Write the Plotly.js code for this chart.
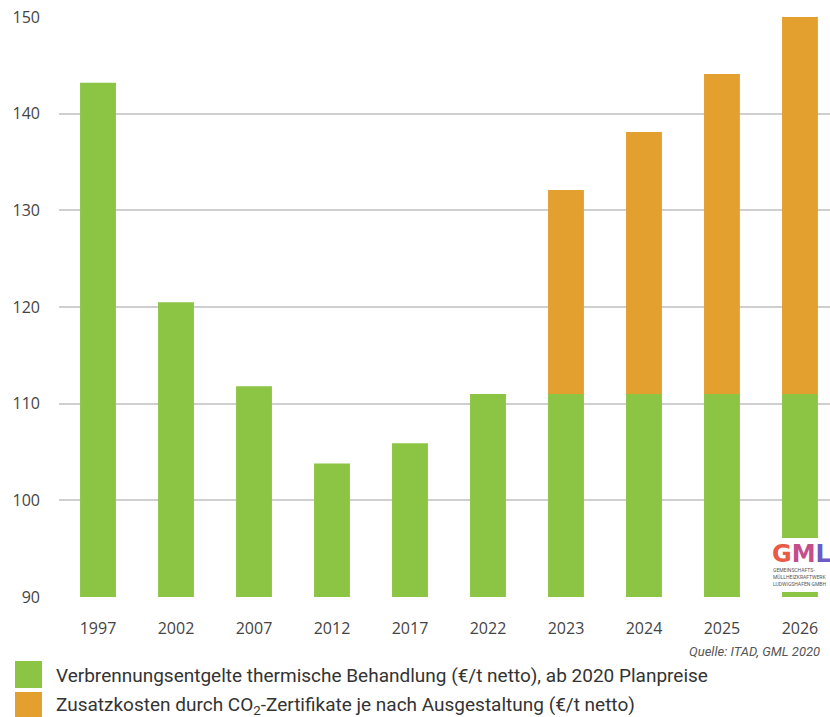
<!DOCTYPE html>
<html><head><meta charset="utf-8">
<script src="https://cdn.plot.ly/plotly-3.0.1.min.js"></script>
<style>html,body{margin:0;padding:0;background:#fff}</style>
</head><body>
<div id="chart" style="width:830px;height:717px"></div>
<script>
const years = ['1997','2002','2007','2012','2017','2022','2023','2024','2025','2026'];
const baseFees = [143.2, 120.5, 111.8, 103.8, 105.9, 111.0, 111.0, 111.0, 111.0, 111.0];
const co2Costs = [null, null, null, null, null, null, 21.1, 27.1, 33.1, 39.0];
const seriesNames = [
  'Verbrennungsentgelte thermische Behandlung (€/t netto), ab 2020 Planpreise',
  'Zusatzkosten durch CO<sub>2</sub>-Zertifikate je nach Ausgestaltung (€/t netto)'
];
const yTicks = [90, 100, 110, 120, 130, 140, 150];
const sourceText = 'Quelle: ITAD, GML 2020';
const logoLines = ['GEMEINSCHAFTS-', 'MÜLLHEIZKRAFTWERK', 'LUDWIGSHAFEN GMBH'];
const colors = ['#8cc443', '#e3a02e'];

const traces = [
  {type:'bar', x: years, y: baseFees, base: 0, name: seriesNames[0], marker:{color: colors[0]}, width:0.46, hoverinfo:'skip'},
  {type:'bar', x: years, y: co2Costs, base: baseFees, name: seriesNames[1], marker:{color: colors[1]}, width:0.46, hoverinfo:'skip'}
];

const font = "'Open Sans', sans-serif";
const legFont = "'Liberation Sans Narrow', 'Roboto', sans-serif";
const px = v => (v-59)/771;
const py = v => (597-v)/580;

const logoAnn = logoLines.map((t,i) => ({xref:'paper', yref:'paper', x:px(771), y:py(570+i*7), xanchor:'left', yanchor:'middle',
  showarrow:false, text:t, font:{family:legFont, size:5, color:'#555'}}));

const layout = {
  width: 830, height: 717,
  margin: {l:59, r:0, t:17, b:120},
  barmode: 'overlay',
  showlegend: false,
  paper_bgcolor:'#fff', plot_bgcolor:'#fff',
  xaxis: {type:'category', range:[-0.5, 9.385], showgrid:false, showline:false, zeroline:false,
          ticks:'', tickfont:{family:font, size:16, color:'#444'}, ticklabelstandoff: 20},
  yaxis: {range:[90, 150], tickvals: yTicks, showgrid:true, gridcolor:'#cfcfcf', gridwidth:2,
          zeroline:false, showline:false, ticks:'', tickfont:{family:font, size:16, color:'#444'},
          ticklabelstandoff: 18},
  shapes: [
    {type:'rect', xref:'paper', yref:'paper', x0:px(742), x1:1, y0:py(592), y1:py(538),
     fillcolor:'#fff', line:{width:0}, layer:'above'},
    {type:'rect', xref:'paper', yref:'paper', x0:px(15), x1:px(42), y0:py(688), y1:py(661),
     fillcolor:colors[0], line:{width:0}},
    {type:'rect', xref:'paper', yref:'paper', x0:px(15), x1:px(42), y0:py(717), y1:py(692),
     fillcolor:colors[1], line:{width:0}}
  ],
  annotations: [
    {xref:'paper', yref:'paper', x:px(54), y:py(676), xanchor:'left', yanchor:'middle', showarrow:false,
     text: seriesNames[0], font:{family:legFont, size:19, color:'#333'}},
    {xref:'paper', yref:'paper', x:px(54), y:py(705), xanchor:'left', yanchor:'middle', showarrow:false,
     text: seriesNames[1], font:{family:legFont, size:19, color:'#333'}},
    {xref:'paper', yref:'paper', x:px(822), y:py(651), xanchor:'right', yanchor:'middle', showarrow:false,
     text: '<i>'+sourceText+'</i>', font:{family:legFont, size:13, color:'#555'}},
    {xref:'paper', yref:'paper', x:px(770), y:py(554), xanchor:'left', yanchor:'middle', showarrow:false,
     text: '<b><span style="color:#ea5a45">G</span><span style="color:#c44d8c">M</span><span style="color:#6a5cc4">L</span></b>',
     font:{family:"'DejaVu Sans', sans-serif", size:24}}
  ].concat(logoAnn)
};

Plotly.newPlot('chart', traces, layout, {displayModeBar:false, staticPlot:true});
</script>
</body></html>
